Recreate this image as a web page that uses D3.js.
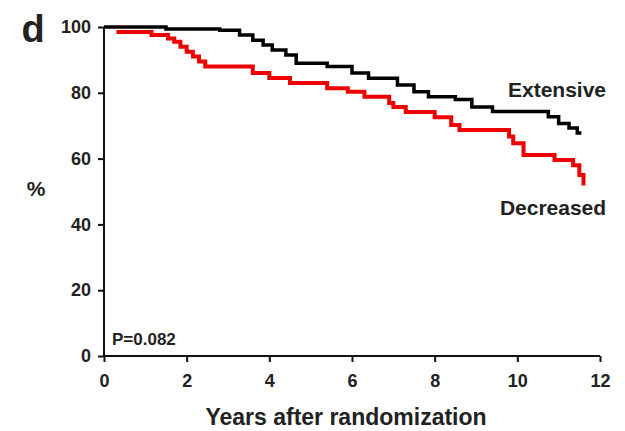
<!DOCTYPE html>
<html>
<head>
<meta charset="utf-8">
<script src="https://cdn.jsdelivr.net/npm/d3@7"></script>
<style>
  body { margin: 0; background: #fff; }
  text { font-family: "Liberation Sans", Arial, sans-serif; font-weight: bold; fill: #222; }
</style>
</head>
<body>
<svg id="km" width="625" height="431"></svg>
<script>
// survival curves
const extensiveYears = [0, 1.5, 2.8, 3.28, 3.6, 3.85, 4.07, 4.4, 4.65, 5.4, 6.0, 6.4, 7.1, 7.5, 7.85, 8.5, 8.9, 9.4, 10.75, 11.0, 11.25, 11.45, 11.55];
const extensiveSurv  = [100, 99.4, 99, 97.6, 96, 94.5, 93, 91.5, 89, 88, 86, 84.4, 82.4, 80.3, 78.8, 78, 75.7, 74.3, 72.7, 70.7, 69.3, 67.8, 67.8];

const decreasedYears = [0.3, 1.15, 1.55, 1.7, 1.85, 2.0, 2.15, 2.3, 2.45, 3.6, 4.0, 4.5, 5.4, 5.9, 6.3, 6.9, 7.0, 7.3, 8.0, 8.4, 8.6, 9.8, 9.9, 10.15, 10.9, 11.35, 11.5, 11.6];
const decreasedSurv  = [98.5, 97.6, 96.5, 95.5, 94, 92.5, 91, 89.5, 88, 86, 84.5, 83, 81.4, 80.3, 78.8, 76.9, 75.7, 74.2, 72.6, 70.2, 68.7, 66.7, 64.7, 61.1, 59.6, 58, 55, 51.8];

const xTicks = [0, 2, 4, 6, 8, 10, 12];
const yTicks = [0, 20, 40, 60, 80, 100];

const svg = d3.select("#km");
const x = d3.scaleLinear().domain([0, 12]).range([104, 600]);
const y = d3.scaleLinear().domain([0, 100]).range([356, 27]);

// axes
const xAxis = svg.append("g")
  .attr("transform", "translate(0," + y(0) + ")")
  .call(d3.axisBottom(x).tickValues(xTicks).tickSize(6).tickPadding(12).tickFormat(d3.format("d")));
const yAxis = svg.append("g")
  .attr("transform", "translate(" + x(0) + ",0)")
  .call(d3.axisLeft(y).tickValues(yTicks).tickSize(6).tickPadding(7).tickFormat(d3.format("d")));

[xAxis, yAxis].forEach(a => {
  a.select(".domain").attr("stroke", "#111").attr("stroke-width", 2);
  a.selectAll(".tick line").attr("stroke", "#111").attr("stroke-width", 2);
  a.selectAll(".tick text").style("font-size", "18px").style("font-family", "Liberation Sans, Arial, sans-serif").style("font-weight", "bold").attr("fill", "#222");
});
xAxis.select(".domain").attr("d", "M" + x(0) + ",0H" + x(12));
yAxis.select(".domain").attr("d", "M0," + y(0) + "V" + y(100));

// curves
const stepLine = d3.line().x(d => x(d[0])).y(d => y(d[1])).curve(d3.curveStepAfter);

svg.append("path")
  .datum(d3.zip(decreasedYears, decreasedSurv))
  .attr("d", stepLine)
  .attr("fill", "none")
  .attr("stroke", "#ee0000")
  .attr("stroke-width", 4);

svg.append("path")
  .datum(d3.zip(extensiveYears, extensiveSurv))
  .attr("d", stepLine)
  .attr("fill", "none")
  .attr("stroke", "#000")
  .attr("stroke-width", 3.5);

// labels
svg.append("text").attr("x", 557).attr("y", 97).attr("text-anchor", "middle")
  .style("font-size", "21px").text("Extensive");
svg.append("text").attr("x", 553).attr("y", 215).attr("text-anchor", "middle")
  .style("font-size", "21px").text("Decreased");
svg.append("text").attr("x", 112).attr("y", 345)
  .style("font-size", "17px").text("P=0.082");
svg.append("text").attr("x", 36).attr("y", 196).attr("text-anchor", "middle")
  .style("font-size", "21px").text("%");
svg.append("text").attr("x", 33).attr("y", 42).attr("text-anchor", "middle")
  .style("font-size", "38px").text("d");
svg.append("text").attr("x", 346).attr("y", 425).attr("text-anchor", "middle")
  .style("font-size", "23px").text("Years after randomization");
</script>
</body>
</html>
